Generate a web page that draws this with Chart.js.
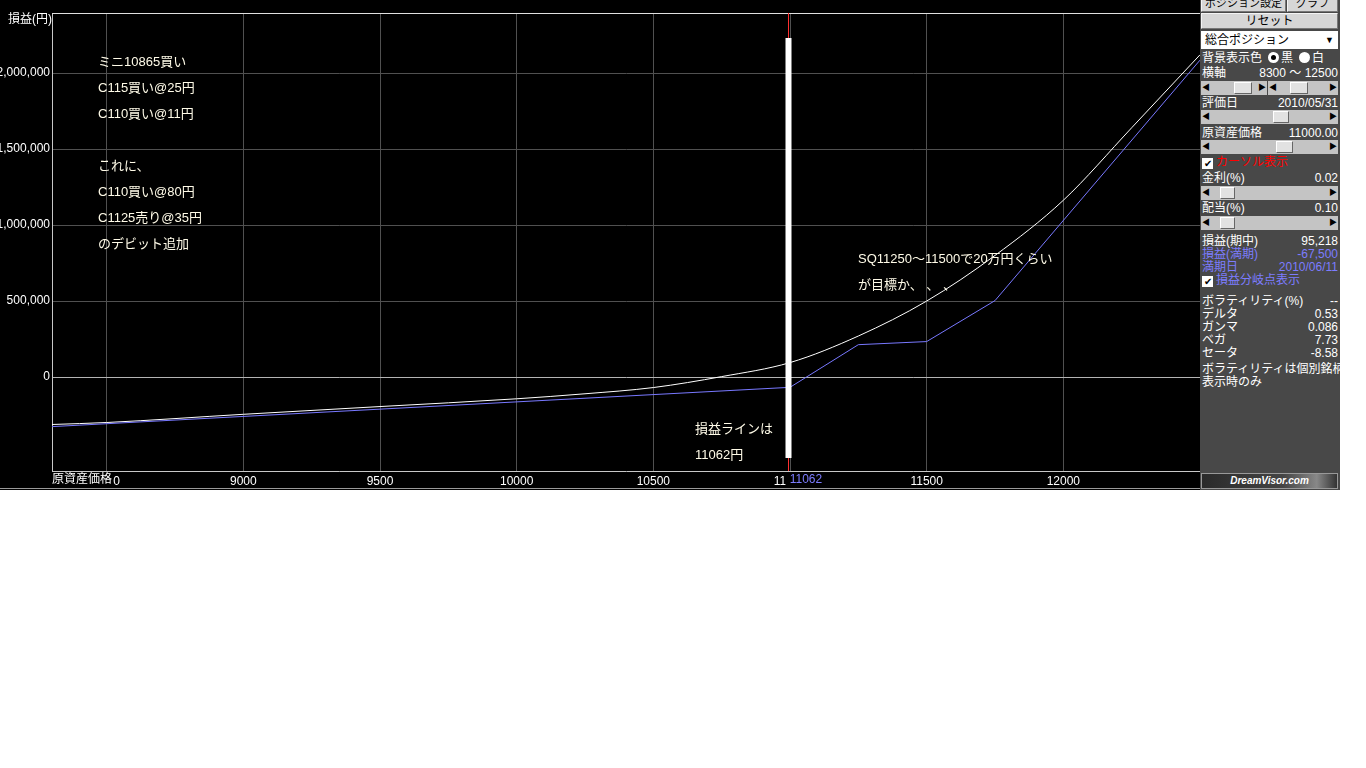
<!DOCTYPE html>
<html>
<head>
<meta charset="utf-8">
<script src="https://cdn.jsdelivr.net/npm/chart.js@4.4.1/dist/chart.umd.min.js"></script>
<style>
    body { margin: 0; background: #fff; font-family: "Liberation Sans", "Noto Sans CJK JP", sans-serif; }
    #wrap { position: absolute; left: 0; top: 0; width: 1200px; height: 490px; background: #000; }
    #pnlChart { display: block; }
    #panel { position: absolute; left: 1200px; top: 0; width: 140px; height: 490px; background: #484848; overflow: hidden; font-size: 12px; color: #fff; }
    #panel .row { position: absolute; left: 2px; right: 2px; height: 14px; line-height: 14px; white-space: nowrap; }
    #panel .row .v { position: absolute; right: 0; top: 0; }
    #panel .blue { color: #7c7cff; }
    .btn { position: absolute; background: #d6d6d6; color: #000; text-align: center; border: 1px solid #f4f4f4; border-right-color: #777; border-bottom-color: #777; box-sizing: border-box; white-space: nowrap; overflow: hidden; }
    .bar { position: absolute; height: 14px; background: #c4c4c4; }
    .bar .a { position: absolute; top: 0; width: 10px; height: 14px; font-size: 8px; line-height: 14px; color: #000; text-align: center; }
    .bar .t { position: absolute; top: 1px; height: 12px; background: #e2e2e2; border: 1px solid #fff; border-right-color: #666; border-bottom-color: #666; box-sizing: border-box; }
    .chk { display: inline-block; width: 11px; height: 11px; background: #fff; color: #000; font-size: 10px; line-height: 11px; text-align: center; vertical-align: -1px; margin-right: 3px; }
    .radio { display: inline-block; width: 11px; height: 11px; border-radius: 50%; background: #fff; vertical-align: -1px; position: relative; margin: 0 2px 0 6px; }
    .radio.on::after { content: ''; position: absolute; left: 3px; top: 3px; width: 5px; height: 5px; border-radius: 50%; background: #000; }
</style>
</head>
<body>
<div id="wrap"><canvas id="pnlChart" width="1200" height="490"></canvas></div>
<div id="panel">
    <div class="btn" style="left:1px;top:-7px;width:85px;height:19px;line-height:19px;font-size:11px;">ポジション設定</div>
    <div class="btn" style="left:87px;top:-7px;width:51px;height:19px;line-height:19px;font-size:11px;">グラフ</div>
    <div class="btn" style="left:1px;top:13px;width:137px;height:16px;line-height:14px;">リセット</div>
    <div style="position:absolute;left:1px;top:31px;width:137px;height:18px;background:#fff;color:#000;line-height:18px;padding-left:4px;box-sizing:border-box;">総合ポジション<span style="position:absolute;right:4px;font-size:9px;">▼</span></div>
    <div class="row" style="top:51px;">背景表示色<span class="radio on"></span>黒<span class="radio"></span>白</div>
    <div class="row" style="top:66px;">横軸<span class="v">8300 ～ 12500</span></div>
    <div id="sliders"></div>
    <div class="row" style="top:96px;">評価日<span class="v">2010/05/31</span></div>
    <div class="row" style="top:126px;">原資産価格<span class="v">11000.00</span></div>
    <div class="row" style="top:155px;color:#ff0000;"><span class="chk">✔</span>カーソル表示</div>
    <div class="row" style="top:171px;">金利(%)<span class="v">0.02</span></div>
    <div class="row" style="top:201px;">配当(%)<span class="v">0.10</span></div>
    <div class="row" style="top:234px;">損益(期中)<span class="v">95,218</span></div>
    <div class="row blue" style="top:247px;">損益(満期)<span class="v">-67,500</span></div>
    <div class="row blue" style="top:260px;">満期日<span class="v">2010/06/11</span></div>
    <div class="row blue" style="top:273px;"><span class="chk">✔</span>損益分岐点表示</div>
    <div class="row" style="top:294px;">ボラティリティ(%)<span class="v">--</span></div>
    <div class="row" style="top:307px;">デルタ<span class="v">0.53</span></div>
    <div class="row" style="top:320px;">ガンマ<span class="v">0.086</span></div>
    <div class="row" style="top:333px;">ベガ<span class="v">7.73</span></div>
    <div class="row" style="top:346px;">セータ<span class="v">-8.58</span></div>
    <div class="row" style="top:362px;right:0;overflow:hidden;">ボラティリティは個別銘柄</div>
    <div class="row" style="top:375px;">表示時のみ</div>
    <div style="position:absolute;left:1px;top:473px;width:137px;height:16px;background:linear-gradient(90deg,#2a2a2a,#444 60%,#888 85%,#333);border:1px solid #999;box-sizing:border-box;color:#fff;font:italic bold 10px 'Liberation Sans',sans-serif;line-height:14px;text-align:center;">DreamVisor.com</div>
</div>
<script>
// axis ticks
const priceTicks = [8500, 9000, 9500, 10000, 10500, 11000, 11500, 12000];
const pnlTicks = [0, 500000, 1000000, 1500000, 2000000];

// 損益(期中) - white curve
const midPrices = [8300, 8500, 9000, 9500, 10000, 10250, 10500, 10750, 11000, 11250, 11500, 11750, 12000, 12250, 12500];
const midPnl = [-312000, -299000, -245000, -194000, -143000, -110000, -69000, 3000, 95218, 270000, 500000, 800000, 1163000, 1640000, 2120000];

// 損益(満期) - blue line
const expiryPrices = [8300, 11000, 11250, 11500, 11750, 12500];
const expiryPnl = [-326000, -67500, 213000, 233500, 503000, 2085000];

const cursorPrice = 11000;
const breakEven = 11062;
const markerTop = 2230000;
const markerBottom = -533000;

const notes = [
    {text: 'ミニ10865買い', x: 98, y: 62},
    {text: 'C115買い@25円', x: 98, y: 88},
    {text: 'C110買い@11円', x: 98, y: 114},
    {text: 'これに、', x: 98, y: 166},
    {text: 'C110買い@80円', x: 98, y: 192},
    {text: 'C1125売り@35円', x: 98, y: 218},
    {text: 'のデビット追加', x: 98, y: 244},
    {text: 'SQ11250～11500で20万円くらい', x: 858, y: 259},
    {text: 'が目標か、 、 、', x: 858, y: 285},
    {text: '損益ラインは', x: 695, y: 429},
    {text: '11062円', x: 695, y: 455}
];

// sliders in side panel
const sliders = [
    {top: 81, left: 1, width: 66, thumb: 33, tw: 18},
    {top: 81, left: 68, width: 70, thumb: 22, tw: 18},
    {top: 110, left: 1, width: 137, thumb: 72, tw: 16},
    {top: 140, left: 1, width: 137, thumb: 75, tw: 17},
    {top: 186, left: 1, width: 137, thumb: 19, tw: 15},
    {top: 216, left: 1, width: 137, thumb: 19, tw: 15}
];
const sliderBox = document.getElementById('sliders');
sliders.forEach(s => {
    const b = document.createElement('div');
    b.className = 'bar';
    b.style.cssText = `top:${s.top}px;left:${s.left}px;width:${s.width}px;`;
    b.innerHTML = `<div class="a" style="left:0">◀</div><div class="t" style="left:${s.thumb}px;width:${s.tw}px"></div><div class="a" style="right:0">▶</div>`;
    sliderBox.appendChild(b);
});

const FONT = '"Liberation Sans", "Noto Sans CJK JP", sans-serif';

const overlay = {
    id: 'overlay',
    beforeDatasetsDraw(chart) {
        const ctx = chart.ctx;
        const a = chart.chartArea;
        ctx.save();
        ctx.strokeStyle = '#e0e0e0';
        ctx.lineWidth = 1;
        ctx.beginPath();
        ctx.moveTo(a.left, a.top + 0.5);
        ctx.lineTo(a.right, a.top + 0.5);
        ctx.stroke();
        ctx.strokeStyle = '#9a9a9a';
        ctx.beginPath();
        ctx.moveTo(0, 488.5);
        ctx.lineTo(a.right, 488.5);
        ctx.stroke();
        ctx.restore();
    },
    afterDraw(chart) {
        const ctx = chart.ctx;
        const a = chart.chartArea;
        const xs = chart.scales.x;
        const ys = chart.scales.y;
        ctx.save();
        // cursor line
        const cx = Math.round(xs.getPixelForValue(cursorPrice)) - 1.5;
        ctx.strokeStyle = '#ff3030';
        ctx.lineWidth = 1;
        ctx.beginPath();
        ctx.moveTo(cx, a.top);
        ctx.lineTo(cx, a.bottom);
        ctx.stroke();
        // hand drawn marker
        ctx.strokeStyle = '#ffffff';
        ctx.lineWidth = 6;
        ctx.beginPath();
        ctx.moveTo(cx, ys.getPixelForValue(markerTop));
        ctx.lineTo(cx, ys.getPixelForValue(markerBottom));
        ctx.stroke();

        ctx.font = '12px ' + FONT;
        ctx.textBaseline = 'middle';
        // axis titles
        ctx.fillStyle = '#fff';
        ctx.textAlign = 'left';
        ctx.fillText('損益(円)', 8, 20);
        const tw = ctx.measureText('原資産価格').width;
        ctx.fillStyle = '#000';
        ctx.fillRect(a.left, a.bottom + 2, tw + 1, 15);
        ctx.fillStyle = '#fff';
        ctx.fillText('原資産価格', a.left, 480);
        // break-even label
        const bx = xs.getPixelForValue(breakEven);
        const bw = ctx.measureText(String(breakEven)).width;
        ctx.fillStyle = '#000';
        ctx.fillRect(bx - bw / 2 - 5, a.bottom + 2, bw + 7, 15);
        ctx.fillStyle = '#7c7cff';
        ctx.textAlign = 'center';
        ctx.fillText(String(breakEven), bx - 1, 480);

        // notes
        ctx.font = '13px ' + FONT;
        ctx.fillStyle = '#fffbe8';
        ctx.textAlign = 'left';
        notes.forEach(n => ctx.fillText(n.text, n.x, n.y));
        ctx.restore();
    }
};

const ctx = document.getElementById('pnlChart').getContext('2d');
const pnlChart = new Chart(ctx, {
    type: 'line',
    data: {
        datasets: [
            {
                label: '損益(満期)',
                data: expiryPrices.map((p, i) => ({x: p, y: expiryPnl[i]})),
                borderColor: '#7878ff',
                borderWidth: 1,
                pointRadius: 0,
                tension: 0
            },
            {
                label: '損益(期中)',
                data: midPrices.map((p, i) => ({x: p, y: midPnl[i]})),
                borderColor: '#ffffff',
                borderWidth: 1,
                pointRadius: 0,
                cubicInterpolationMode: 'monotone'
            }
        ]
    },
    options: {
        responsive: false,
        animation: false,
        devicePixelRatio: 1,
        layout: { padding: { top: 13, left: 0, right: 0, bottom: 0 } },
        plugins: { legend: { display: false }, tooltip: { enabled: false } },
        scales: {
            x: {
                type: 'linear',
                min: 8300,
                max: 12500,
                afterBuildTicks: s => { s.ticks = priceTicks.map(v => ({value: v})); },
                afterFit: s => { s.height = 19; },
                grid: { color: '#505050', drawTicks: false },
                border: { color: '#c8c8c8' },
                ticks: {
                    color: '#fff',
                    padding: 3,
                    maxRotation: 0,
                    font: { size: 12, family: FONT },
                    callback: v => String(v)
                }
            },
            y: {
                min: -618000,
                max: 2395000,
                afterBuildTicks: s => { s.ticks = pnlTicks.map(v => ({value: v})); },
                afterFit: s => { s.width = 52; },
                grid: {
                    color: c => (c.tick && c.tick.value === 0) ? '#b4b4b4' : '#505050',
                    drawTicks: false
                },
                border: { color: '#c8c8c8' },
                ticks: {
                    color: '#fff',
                    padding: 2,
                    font: { size: 12, family: FONT },
                    callback: v => v.toLocaleString('en-US')
                }
            }
        }
    },
    plugins: [overlay]
});
</script>
</body>
</html>
